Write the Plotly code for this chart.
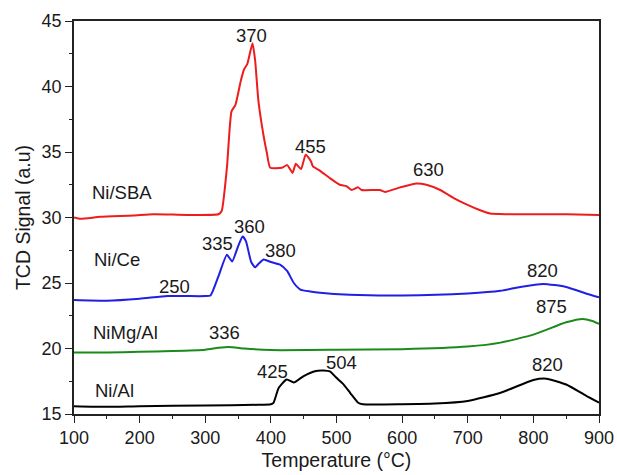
import plotly.graph_objects as go

# ---- data ----
sba_T = [100, 110, 140, 190, 221, 272, 320, 325, 333, 340, 346, 354, 359, 364, 372, 376, 381, 389, 394, 399,
         417, 425, 433, 438, 446, 453, 461, 464, 474, 490, 505, 515, 523, 533, 538, 566, 574, 597, 622, 637,
         658, 678, 698, 719, 734, 759, 800, 850, 900]
sba_y = [30.0, 29.9, 30.05, 30.15, 30.25, 30.2, 30.25, 30.5, 33.8, 38.1, 38.6, 40.4, 41.3, 41.7, 43.3, 42.0,
         38.9, 36.2, 34.9, 33.8, 33.8, 34.0, 33.4, 34.1, 33.7, 34.8, 34.3, 33.9, 33.6, 33.0, 32.5, 32.4, 32.1,
         32.3, 32.1, 32.1, 31.95, 32.3, 32.6, 32.5, 32.1, 31.5, 31.0, 30.55, 30.3, 30.25, 30.25, 30.25, 30.2]

ce_T = [100, 150, 200, 242, 270, 300, 308, 320, 333, 341, 350, 357, 362, 370, 376, 382, 389, 400, 414, 425,
        435, 445, 460, 475, 520, 600, 700, 750, 780, 815, 850, 880, 900]
ce_y = [23.7, 23.65, 23.8, 24.0, 24.0, 24.0, 24.05, 25.5, 27.15, 26.65, 27.8, 28.55, 28.2, 26.6, 26.2, 26.5,
        26.8, 26.6, 26.4, 25.9, 25.0, 24.5, 24.35, 24.25, 24.1, 24.05, 24.2, 24.4, 24.7, 24.93, 24.7, 24.2, 23.9]

mg_T = [100, 150, 200, 250, 300, 320, 336, 360, 400, 500, 600, 700, 750, 800, 850, 875, 890, 900]
mg_y = [19.7, 19.7, 19.75, 19.8, 19.9, 20.05, 20.12, 20.0, 19.88, 19.9, 19.95, 20.15, 20.45, 21.06, 22.0,
        22.26, 22.1, 21.88]

al_T = [100, 150, 200, 300, 380, 400, 404, 412, 424, 435, 450, 467, 480, 490, 500, 510, 521, 533, 540, 600,
        650, 700, 749, 800, 820, 850, 880, 900]
al_y = [15.6, 15.55, 15.6, 15.65, 15.7, 15.75, 15.85, 17.0, 17.64, 17.4, 17.9, 18.27, 18.32, 18.25, 17.76,
        17.3, 16.6, 15.86, 15.75, 15.75, 15.8, 16.0, 16.6, 17.6, 17.7, 17.25, 16.4, 15.86]

series = [
    ("Ni/SBA", sba_T, sba_y, "#ee1c1c"),
    ("Ni/Ce", ce_T, ce_y, "#1f1fe6"),
    ("NiMg/Al", mg_T, mg_y, "#1a8a1a"),
    ("Ni/Al", al_T, al_y, "#000000"),
]

labels_text = ["370", "455", "630", "Ni/SBA", "360", "335", "380", "250", "Ni/Ce", "820", "875",
               "NiMg/Al", "336", "Ni/Al", "425", "504", "820"]
labels_T = [371, 461, 640, 173, 368, 318, 415, 253, 165, 814, 827, 178, 329, 162, 402, 508, 822]
labels_y = [43.9, 35.4, 33.7, 31.9, 29.3, 28.05, 27.5, 24.7, 26.8, 25.94, 23.2, 21.24, 21.2, 16.8, 18.27,
            18.95, 18.78]

FONT = "Liberation Sans, Arial"
fig = go.Figure()
for name, T, y, c in series:
    fig.add_trace(go.Scatter(x=T, y=y, mode="lines", name=name,
                             line=dict(color=c, width=2, shape="spline", smoothing=0.5)))

for t, xv, yv in zip(labels_text, labels_T, labels_y):
    fig.add_annotation(x=xv, y=yv, text=t, showarrow=False,
                       font=dict(size=18.5, color="#1a1a1a", family=FONT),
                       xanchor="center", yanchor="middle")

axis_common = dict(showline=True, linecolor="#222", linewidth=1.5, mirror=True, showgrid=False,
                   zeroline=False, ticks="outside", ticklen=7, tickwidth=1.2, tickcolor="#222",
                   tickfont=dict(size=18, color="#1a1a1a", family=FONT), automargin=False)

fig.update_xaxes(range=[100, 900], dtick=100, tick0=100,
                 minor=dict(dtick=50, ticks="outside", ticklen=3.5, tickcolor="#222", tickwidth=1),
                 title=dict(text="Temperature (°C)", font=dict(size=19.5, color="#1a1a1a", family=FONT),
                            standoff=6),
                 **axis_common)
fig.update_yaxes(range=[15, 45], dtick=5, tick0=15,
                 minor=dict(dtick=2.5, ticks="outside", ticklen=3.5, tickcolor="#222", tickwidth=1),
                 title=dict(text="TCD Signal (a.u)", font=dict(size=19.5, color="#1a1a1a", family=FONT),
                            standoff=6),
                 **axis_common)

fig.update_layout(width=617, height=475, margin=dict(l=74, r=18, t=21, b=61, autoexpand=False),
                  plot_bgcolor="white", paper_bgcolor="white", showlegend=False,
                  font=dict(family=FONT, color="#1a1a1a"))

fig.write_html("out.html")
